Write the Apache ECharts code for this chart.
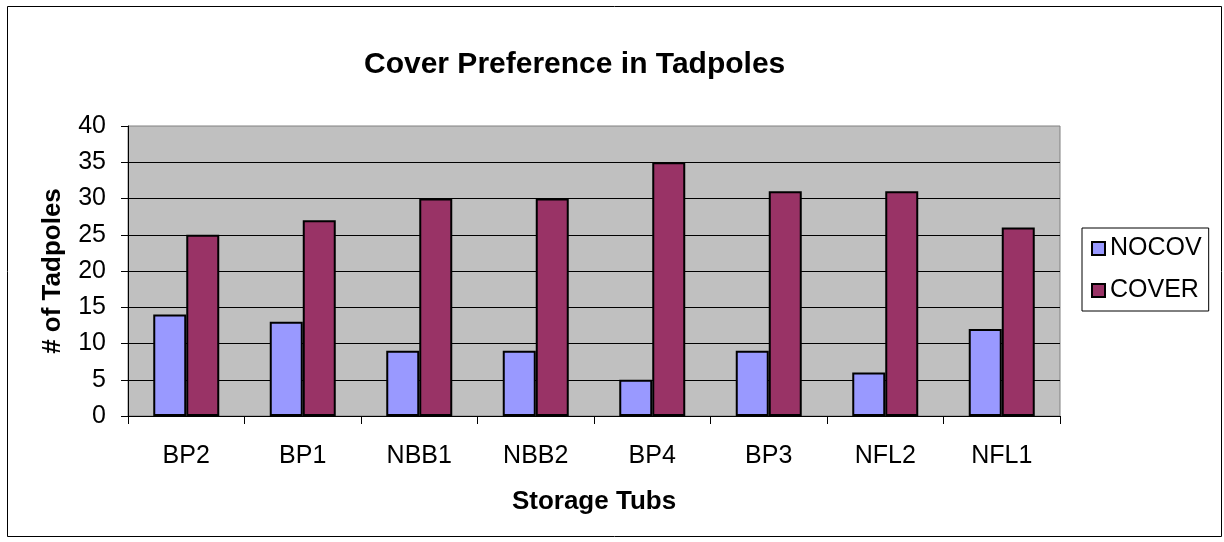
<!DOCTYPE html>
<html>
<head>
<meta charset="utf-8">
<script src="https://cdn.jsdelivr.net/npm/echarts@6/dist/echarts.min.js"></script>
<style>
  html, body { margin: 0; padding: 0; background: #fff; }
  #chart { width: 1224px; height: 542px; }
</style>
</head>
<body>
<div id="chart"></div>
<script>
const tubs = ['BP2', 'BP1', 'NBB1', 'NBB2', 'BP4', 'BP3', 'NFL2', 'NFL1']
const nocov = [14, 13, 9, 9, 5, 9, 6, 12]
const cover = [25, 27, 30, 30, 35, 31, 31, 26]

const font = '"Liberation Sans", Arial, sans-serif'
const chart = echarts.init(document.getElementById('chart'))

chart.setOption({
  backgroundColor: '#fff',
  textStyle: { fontFamily: font, color: '#000' },
  title: {
    text: 'Cover Preference in Tadpoles',
    left: 359,
    top: 45,
    textStyle: { fontFamily: font, fontSize: 30, fontWeight: 'bold', color: '#000' },
  },
  graphic: [
    {
      type: 'rect',
      shape: { x: 7.5, y: 6.5, width: 1214, height: 530 },
      style: { fill: 'none', stroke: '#000', lineWidth: 1 },
      silent: true,
    },
  ],
  legend: {
    orient: 'vertical',
    left: 1082,
    top: 228,
    padding: [8, 7, 8, 9],
    itemGap: 17,
    itemWidth: 13,
    itemHeight: 13,
    borderColor: '#000',
    borderWidth: 1,
    icon: 'rect',
    textStyle: { fontFamily: font, fontSize: 25, color: '#000' },
    data: ['NOCOV', 'COVER'],
  },
  grid: {
    left: 128,
    right: 164,
    top: 126,
    bottom: 126,
    show: true,
    backgroundColor: '#C0C0C0',
    borderColor: '#808080',
    borderWidth: 1,
  },
  xAxis: {
    type: 'category',
    data: tubs,
    name: 'Storage Tubs',
    nameLocation: 'middle',
    nameGap: 73,
    nameTextStyle: { fontFamily: font, fontSize: 26, fontWeight: 'bold', color: '#000' },
    axisLine: { lineStyle: { color: '#000', width: 1 } },
    axisTick: { show: true, length: 8, lineStyle: { color: '#000' } },
    axisLabel: { fontFamily: font, fontSize: 25, color: '#000', margin: 28 },
  },
  yAxis: {
    type: 'value',
    min: 0,
    max: 40,
    interval: 5,
    name: '# of Tadpoles',
    nameLocation: 'middle',
    nameGap: 62,
    nameTextStyle: { fontFamily: font, fontSize: 26, fontWeight: 'bold', color: '#000' },
    axisLine: { show: true, lineStyle: { color: '#000', width: 1 } },
    axisTick: { show: true, length: 7, lineStyle: { color: '#000' } },
    axisLabel: { fontFamily: font, fontSize: 25, color: '#000', margin: 22 },
    splitLine: { show: true, showMinLine: false, showMaxLine: false, lineStyle: { color: '#000', width: 1 } },
  },
  series: [
    {
      name: 'NOCOV',
      type: 'bar',
      data: nocov,
      barWidth: 33,
      barGap: '0%',
      itemStyle: { color: '#9999FF', borderColor: '#000', borderWidth: 2 },
    },
    {
      name: 'COVER',
      type: 'bar',
      data: cover,
      barWidth: 33,
      barGap: '0%',
      itemStyle: { color: '#993366', borderColor: '#000', borderWidth: 2 },
    },
  ],
})
</script>
</body>
</html>
